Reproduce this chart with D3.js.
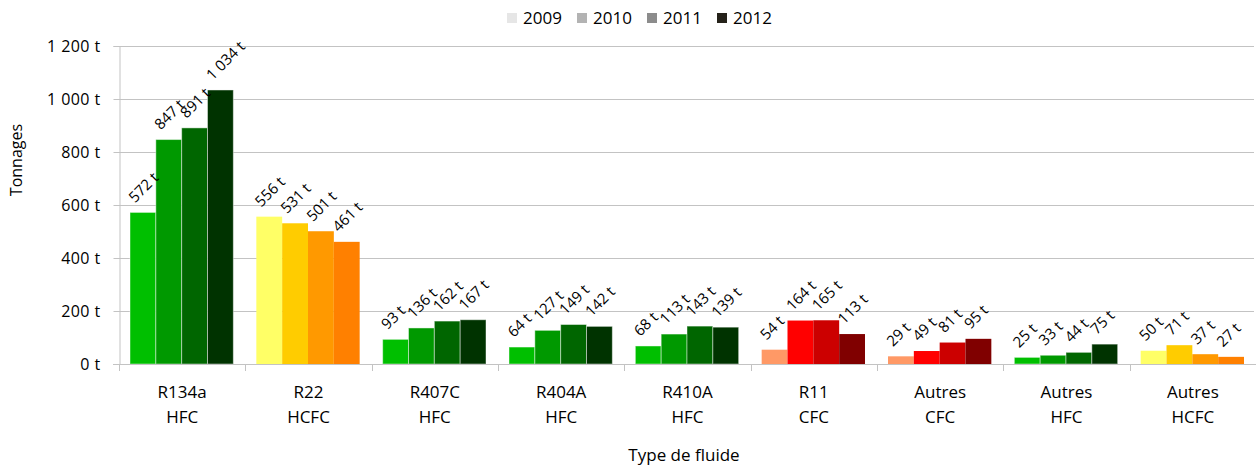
<!DOCTYPE html>
<html>
<head>
<meta charset="utf-8">
<script src="https://cdnjs.cloudflare.com/ajax/libs/d3/7.8.5/d3.min.js"></script>
<style>
  body { margin: 0; background: #fff; }
  svg text { font-family: "Open Sans", sans-serif; fill: #000; }
</style>
</head>
<body>
<div id="chartBox"></div>
<script>
(function () {
  'use strict';

  // data
  var fluids = ["R134a", "R22", "R407C", "R404A", "R410A", "R11", "Autres", "Autres", "Autres"];
  var families = ["HFC", "HCFC", "HFC", "HFC", "HFC", "CFC", "CFC", "HFC", "HCFC"];
  var years = ["2009", "2010", "2011", "2012"];
  var tonnages = [
    [572, 847, 891, 1034],
    [556, 531, 501, 461],
    [93, 136, 162, 167],
    [64, 127, 149, 142],
    [68, 113, 143, 139],
    [54, 164, 165, 113],
    [29, 49, 81, 95],
    [25, 33, 44, 75],
    [50, 71, 37, 27]
  ];
  var yTicks = [0, 200, 400, 600, 800, 1000, 1200];

  // colours per family
  var palettes = {
    HFC: ["#00bf00", "#009900", "#006600", "#003300"],
    HCFC: ["#ffff66", "#ffcc00", "#ff9900", "#ff8000"],
    CFC: ["#ff9966", "#ff0000", "#cc0000", "#800000"]
  };
  var legendColors = ["#e6e6e6", "#b3b3b3", "#8c8c8c", "#25221a"];

  var outerWidth = 1256,
      outerHeight = 465;

  var fr = d3.formatLocale({ decimal: ",", thousands: "\u00a0", grouping: [3], currency: ["", " €"] });
  var fmt = function (v) { return fr.format(",d")(v) + " t"; };

  var svg = d3.select("#chartBox").append("svg")
    .attr("width", outerWidth)
    .attr("height", outerHeight);

  var x0 = d3.scaleBand().domain(d3.range(fluids.length)).range([119, 1256])
    .paddingInner(0).paddingOuter(0);
  var x1 = d3.scaleBand().domain(years).range([11, x0.bandwidth() - 12]).padding(0);
  var y = d3.scaleLinear().domain([0, 1200]).range([364, 46]);

  // gridlines
  svg.append("g")
    .selectAll("line")
    .data(yTicks.slice(1))
    .enter().append("line")
    .attr("x1", 119).attr("x2", 1254)
    .attr("y1", function (d) { return Math.round(y(d)) + 0.5; })
    .attr("y2", function (d) { return Math.round(y(d)) + 0.5; })
    .style("stroke", "#c3c3c3");

  // y axis
  var yAxis = d3.axisLeft(y).tickValues(yTicks).tickFormat(fmt).tickSize(6).tickPadding(13);
  var gy = svg.append("g")
    .attr("transform", "translate(119.5,0)")
    .call(yAxis);
  gy.select(".domain").style("stroke", "#c3c3c3");
  gy.selectAll(".tick line").style("stroke", "#c3c3c3");
  gy.selectAll(".tick text")
    .style("font-size", "16px")
    .style("letter-spacing", "0.4px")
    .style("font-family", "'Open Sans', sans-serif");

  // bars
  var groups = svg.append("g").selectAll(".grp")
    .data(tonnages)
    .enter().append("g")
    .attr("class", "grp")
    .attr("transform", function (d, i) { return "translate(" + x0(i) + ",0)"; });

  groups.each(function (vals, i) {
    var pal = palettes[families[i]];
    var g = d3.select(this);
    g.selectAll("rect")
      .data(vals)
      .enter().append("rect")
      .attr("x", function (d, j) { return x1(years[j]); })
      .attr("width", x1.bandwidth())
      .attr("y", function (d) { return y(d); })
      .attr("height", function (d) { return y(0) - y(d); })
      .style("fill", function (d, j) { return pal[j]; })
      .style("stroke", families[i] === "HFC" ? "rgba(255,255,255,0.45)" : "none")
      .style("stroke-width", 1);

    // rotated value labels
    g.selectAll("text.lbl")
      .data(vals)
      .enter().append("text")
      .attr("class", "lbl")
      .attr("transform", function (d, j) {
        var cx = x1(years[j]) + x1.bandwidth() / 2;
        return "translate(" + (cx - 8) + "," + (y(d) - 9) + ") rotate(-45)";
      })
      .style("font-size", "15px")
      .text(function (d) { return fmt(d); });
  });

  // x axis
  var ax = svg.append("g");
  ax.append("line")
    .attr("x1", 113).attr("x2", 1256)
    .attr("y1", 364.5).attr("y2", 364.5)
    .style("stroke", "#c3c3c3");
  ax.selectAll(".tk")
    .data(d3.range(fluids.length + 1))
    .enter().append("line")
    .attr("class", "tk")
    .attr("x1", function (d) { return Math.round(119 + d * x0.step()) + 0.5; })
    .attr("x2", function (d) { return Math.round(119 + d * x0.step()) + 0.5; })
    .attr("y1", 364).attr("y2", 371)
    .style("stroke", "#c3c3c3");

  var cat = ax.selectAll(".cat")
    .data(fluids)
    .enter().append("text")
    .attr("class", "cat")
    .attr("text-anchor", "middle")
    .style("font-size", "17px");
  cat.append("tspan")
    .attr("x", function (d, i) { return x0(i) + x0.bandwidth() / 2; })
    .attr("y", 398)
    .text(function (d) { return d; });
  cat.append("tspan")
    .attr("x", function (d, i) { return x0(i) + x0.bandwidth() / 2; })
    .attr("y", 423)
    .text(function (d, i) { return families[i]; });

  // axis titles
  svg.append("text")
    .attr("x", 684).attr("y", 461)
    .attr("text-anchor", "middle")
    .style("font-size", "17px")
    .text("Type de fluide");

  svg.append("text")
    .attr("transform", "translate(22,160) rotate(-90)")
    .attr("text-anchor", "middle")
    .style("font-size", "16px")
    .text("Tonnages");

  // legend
  var legend = svg.append("g").selectAll(".leg")
    .data(years)
    .enter().append("g")
    .attr("class", "leg")
    .attr("transform", function (d, i) { return "translate(" + (507 + i * 70) + ",0)"; });
  legend.append("rect")
    .attr("x", 0).attr("y", 13)
    .attr("width", 10).attr("height", 10)
    .style("fill", function (d, i) { return legendColors[i]; });
  legend.append("text")
    .attr("x", 16).attr("y", 24)
    .style("font-size", "17px")
    .text(function (d) { return d; });

})();
</script>
</body>
</html>
